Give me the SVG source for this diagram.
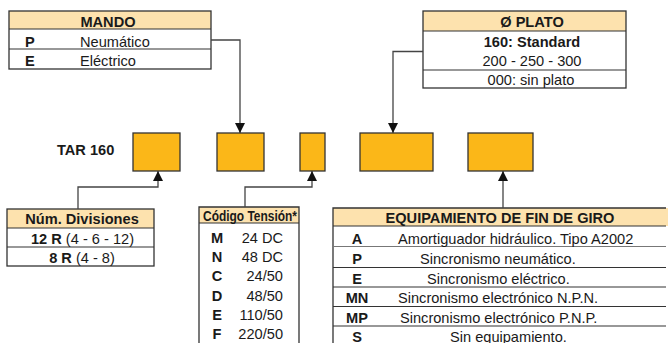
<svg xmlns="http://www.w3.org/2000/svg" width="668" height="343" viewBox="0 0 668 343">
<style>
text{font-family:"Liberation Sans",Arial,sans-serif;font-size:14.6px;fill:#1a1a1a}
.b{font-weight:bold}
.m{text-anchor:middle}
.e{text-anchor:end}
.hd{fill:#fde2ae}
.bx{fill:none;stroke:#333;stroke-width:1.3}
.ln{stroke:#333;stroke-width:1.2;fill:none}
.lf{stroke:#777;stroke-width:1;fill:none}
.or{fill:#fbb718;stroke:#333;stroke-width:1.3}
.cn{stroke:#444;stroke-width:1.3;fill:none}
</style>
<defs>
<marker id="ar" markerWidth="10" markerHeight="13" refX="10" refY="5" orient="auto" markerUnits="userSpaceOnUse" viewBox="0 0 10 10">
<path d="M0,0 L10,5 L0,10 Z" fill="#111"/>
</marker>
</defs>

<g id="mando">
<rect class="hd" x="9" y="11" width="202" height="18"/>
<rect class="bx" x="9" y="11" width="202" height="58"/>
<line class="ln" x1="9" y1="29" x2="211" y2="29"/>
<line class="ln" x1="9" y1="49" x2="211" y2="49"/>
<text class="b m" x="108" y="27">MANDO</text>
<text class="b" x="25" y="46.5">P</text>
<text x="80" y="46.5">Neumático</text>
<text class="b" x="25" y="65.5">E</text>
<text x="80" y="65.5">Eléctrico</text>
</g>

<g id="plato">
<rect class="hd" x="423" y="11" width="203" height="20"/>
<rect class="bx" x="423" y="11" width="203" height="77"/>
<line class="ln" x1="423" y1="31" x2="626" y2="31"/>
<line class="ln" x1="423" y1="70" x2="626" y2="70"/>
<text class="b m" x="532" y="27">Ø PLATO</text>
<text class="b m" x="532" y="47">160: Standard</text>
<text class="m" x="532" y="66">200 - 250 - 300</text>
<text class="m" x="531" y="85">000: sin plato</text>
</g>

<g id="tar">
<text class="b" x="57" y="154.5" font-size="14">TAR 160</text>
</g>

<g id="box1"><rect class="or" x="133" y="133" width="47" height="38"/></g>
<g id="box2"><rect class="or" x="217" y="133" width="47" height="38"/></g>
<g id="box3"><rect class="or" x="300" y="133" width="25" height="38"/></g>
<g id="box4"><rect class="or" x="360" y="133" width="73" height="38"/></g>
<g id="box5"><rect class="or" x="468" y="133" width="65" height="38"/></g>

<g id="divisiones">
<rect class="hd" x="7" y="209" width="147" height="19"/>
<rect class="bx" x="7" y="209" width="147" height="57"/>
<line class="ln" x1="7" y1="228" x2="154" y2="228"/>
<line class="ln" x1="7" y1="247" x2="154" y2="247"/>
<text class="b m" x="82" y="224">Núm. Divisiones</text>
<text class="m" x="82.5" y="244"><tspan class="b">12 R</tspan> (4 - 6 - 12)</text>
<text class="m" x="82" y="263"><tspan class="b">8 R</tspan> (4 - 8)</text>
</g>

<g id="tension">
<rect class="hd" x="199" y="207" width="100" height="16"/>
<path class="bx" d="M199,343 V207 H299 V343"/>
<line class="ln" x1="199" y1="223" x2="299" y2="223"/>
<text class="b" x="203" y="221" font-size="13" textLength="94" lengthAdjust="spacingAndGlyphs">Código Tensión*</text>
<text class="b m" x="217" y="242.5">M</text><text class="e" x="283" y="242.5">24 DC</text>
<text class="b m" x="217" y="261.5">N</text><text class="e" x="283" y="261.5">48 DC</text>
<text class="b m" x="217" y="281">C</text><text class="e" x="283" y="281">24/50</text>
<text class="b m" x="217" y="300.5">D</text><text class="e" x="283" y="300.5">48/50</text>
<text class="b m" x="217" y="320">E</text><text class="e" x="283" y="320">110/50</text>
<text class="b m" x="217" y="339">F</text><text class="e" x="283" y="339">220/50</text>
</g>

<g id="equipamiento">
<rect class="hd" x="333" y="208" width="335" height="18"/>
<path class="bx" d="M333,343 V208 H666"/>
<line class="ln" x1="333" y1="226" x2="666" y2="226"/>
<line class="lf" x1="333" y1="246.5" x2="666" y2="246.5"/>
<line class="ln" x1="333" y1="267.5" x2="666" y2="267.5"/>
<line class="ln" x1="333" y1="287" x2="666" y2="287"/>
<line class="ln" x1="333" y1="306.5" x2="666" y2="306.5"/>
<line class="ln" x1="333" y1="326" x2="666" y2="326"/>
<text class="b m" x="500" y="223">EQUIPAMIENTO DE FIN DE GIRO</text>
<text class="b m" x="357" y="244">A</text><text x="398" y="244">Amortiguador hidráulico. Tipo A2002</text>
<text class="b m" x="357" y="264">P</text><text x="420" y="264">Sincronismo neumático.</text>
<text class="b m" x="357" y="283.5">E</text><text x="427" y="283.5">Sincronismo eléctrico.</text>
<text class="b m" x="357" y="303">MN</text><text x="398" y="303">Sincronismo electrónico N.P.N.</text>
<text class="b m" x="357" y="322.5">MP</text><text x="400" y="322.5">Sincronismo electrónico P.N.P.</text>
<text class="b m" x="357" y="341.5">S</text><text x="450" y="341.5">Sin equipamiento.</text>
</g>

<g id="connectors">
<path class="cn" d="M211,40 H240 V133" marker-end="url(#ar)"/>
<path class="cn" d="M423,51.5 H393 V133" marker-end="url(#ar)"/>
<path class="cn" d="M78,209 V187 H158 V171" marker-end="url(#ar)"/>
<path class="cn" d="M245,207 V187 H312 V171" marker-end="url(#ar)"/>
<path class="cn" d="M503,208 V171" marker-end="url(#ar)"/>
</g>
</svg>
